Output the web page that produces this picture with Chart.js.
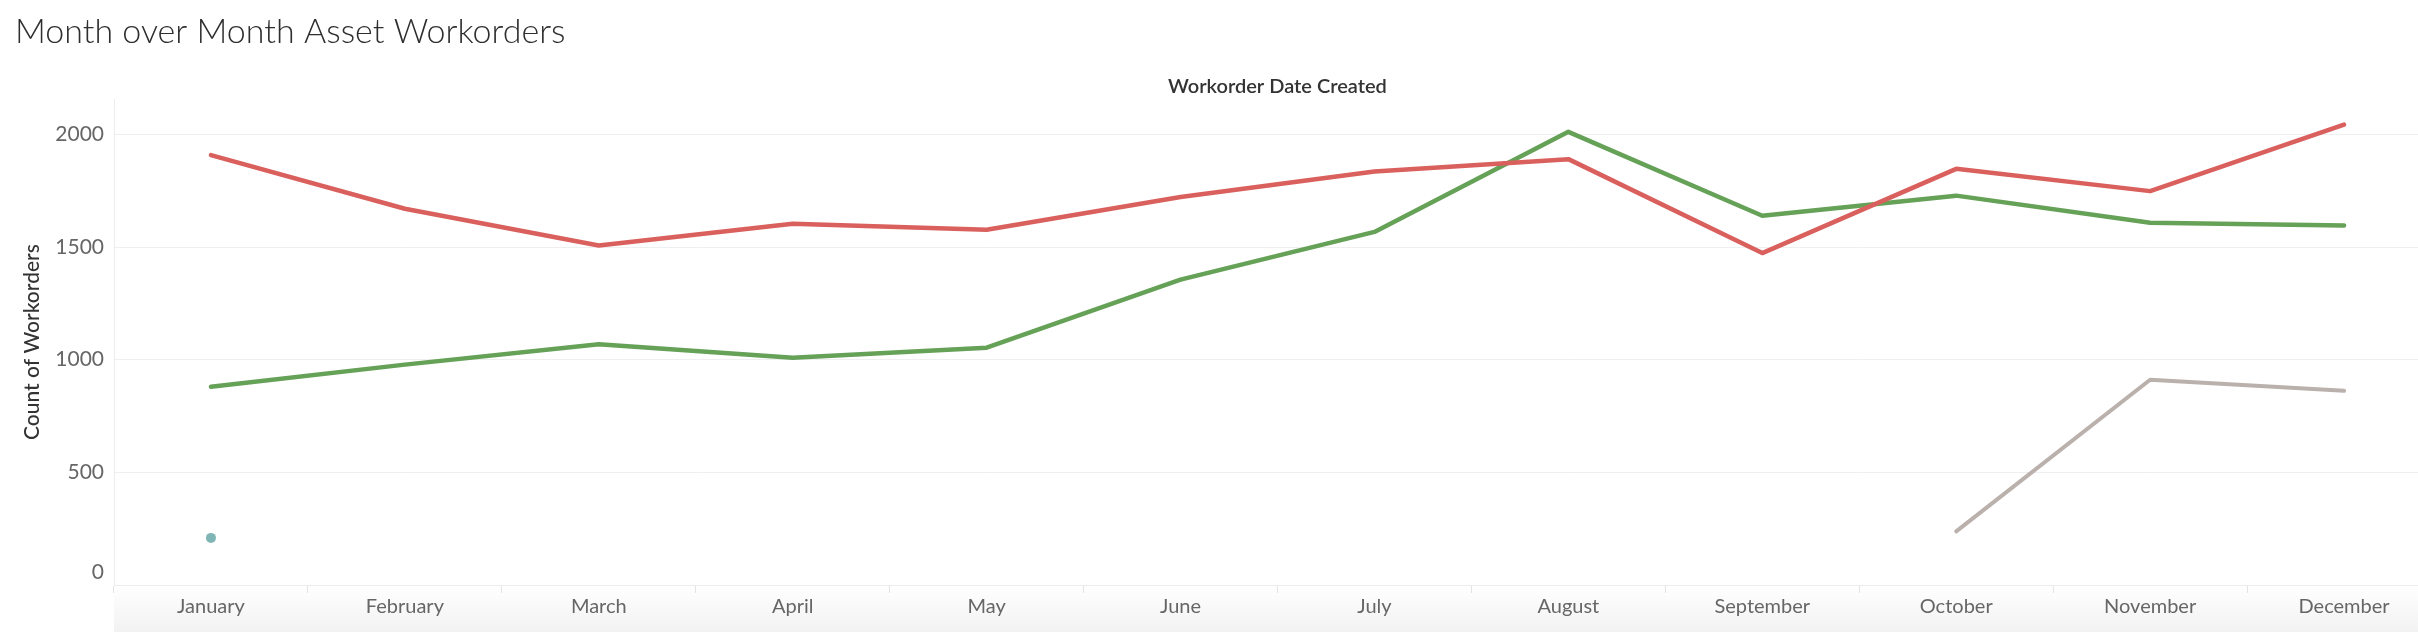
<!DOCTYPE html>
<html>
<head>
<meta charset="utf-8">
<title>Month over Month Asset Workorders</title>
<script src="https://cdn.jsdelivr.net/npm/chart.js@4.4.1/dist/chart.umd.min.js"></script>
<style>
  html, body { margin: 0; padding: 0; background: #fff; overflow: hidden; }
  #wrap { position: relative; width: 2418px; height: 632px; overflow: hidden; }
  #axis-band { position: absolute; left: 114px; right: 0; top: 585px; bottom: 0; background: linear-gradient(#ffffff, #f2f2f2); }
  #chart { position: absolute; left: 0; top: 0; }
</style>
</head>
<body>
<div id="wrap">
  <div id="axis-band"></div>
  <!-- wider than the window: the December band runs past the right edge, as in the source -->
  <canvas id="chart" width="2446" height="632"></canvas>
</div>
<script>
const months = ["January", "February", "March", "April", "May", "June",
  "July", "August", "September", "October", "November", "December"];
const yTicks = [0, 500, 1000, 1500, 2000];
const seriesRed = [1908, 1670, 1507, 1603, 1577, 1722, 1835, 1890, 1473, 1847, 1748, 2043];
const seriesGreen = [880, 978, 1068, 1009, 1053, 1355, 1567, 2011, 1639, 1728, 1608, 1596];
const seriesGray = [null, null, null, null, null, null, null, null, null, 238, 911, 862];
const seriesTeal = [209, null, null, null, null, null, null, null, null, null, null, null];

const FONT = "Lato, 'Open Sans', sans-serif";

function lineSet(label, data, color, width) {
  return {
    label,
    data,
    borderColor: color,
    backgroundColor: color,
    borderWidth: width,
    borderCapStyle: "round",
    borderJoinStyle: "round",
    pointRadius: 0,
    pointHoverRadius: 0,
    tension: 0,
  };
}

new Chart(document.querySelector("#chart"), {
  type: "line",
  data: {
    labels: months,
    datasets: [
      lineSet("Series 1", seriesRed, "#d9605d", 4.5),
      lineSet("Series 2", seriesGreen, "#65a156", 4.5),
      lineSet("Series 3", seriesGray, "#bab0ac", 4),
      {
        label: "Series 4",
        data: seriesTeal,
        showLine: false,
        pointRadius: 5,
        pointBackgroundColor: "#7fb5b5",
        pointBorderWidth: 0,
      },
    ],
  },
  options: {
    responsive: false,
    animation: false,
    devicePixelRatio: 1,
    layout: { padding: { left: 15, right: 0, top: 0, bottom: 0 } },
    plugins: {
      legend: { display: false },
      tooltip: { enabled: false },
      title: {
        display: true,
        text: "Month over Month Asset Workorders",
        align: "start",
        color: "#2e2e2e",
        font: { family: FONT, size: 34, weight: "300", lineHeight: 1.2 },
        padding: { top: 12, bottom: 0 },
      },
    },
    scales: {
      x: {
        type: "category",
        offset: true,
        grid: { display: true, offset: true, drawOnChartArea: false, tickLength: 8, color: "#e4e4e4" },
        border: { display: true, color: "#ececec" },
        ticks: { color: "#666", padding: 2, maxRotation: 0, font: { family: FONT, size: 20 } },
        afterFit: (scale) => { scale.height = 47; },
      },
      xTop: {
        type: "category",
        position: "top",
        grid: { display: false },
        border: { display: false },
        ticks: { display: false },
        title: {
          display: true,
          text: "Workorder Date Created",
          color: "#333",
          font: { family: FONT, size: 20, weight: "600" },
          padding: { top: 22, bottom: 0 },
        },
        afterFit: (scale) => { scale.height = 46.4; },
      },
      y: {
        min: 0,
        max: 2156,
        grid: { color: "#efefef", drawTicks: false },
        border: { display: true, color: "#ececec" },
        afterBuildTicks: (scale) => { scale.ticks = yTicks.map((value) => ({ value })); },
        ticks: {
          color: "#666",
          padding: 10,
          font: { family: FONT, size: 21 },
          // the bottom label sits a little above its gridline in the source
          callback: (value) => (value === 0 ? ["0", ""] : String(value)),
        },
        title: {
          display: true,
          text: "Count of Workorders",
          color: "#333",
          font: { family: FONT, size: 21, weight: "500" },
          padding: { top: 5, bottom: 0 },
        },
        afterFit: (scale) => { scale.width = 99; },
      },
    },
  },
});
</script>
</body>
</html>
